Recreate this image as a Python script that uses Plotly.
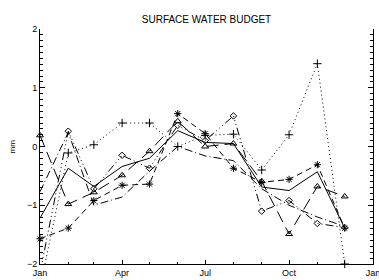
import plotly.graph_objects as go

# Data (first day of each month, day-of-year)
days = [0, 31, 59, 90, 120, 151, 181, 212, 243, 273, 304, 334]
tick_days = [0, 90, 181, 273, 365]
tick_labels = ["Jan", "Apr", "Jul", "Oct", "Jan"]
minor_days = [31, 59, 120, 151, 212, 243, 304, 334]

solid_vals = [-1.22, -0.37, -0.68, -0.34, -0.20, 0.27, 0.07, 0.05, -0.69, -0.75, -0.43, -1.39]
plus_vals = [-2.40, -0.11, 0.03, 0.40, 0.40, 0.00, 0.19, 0.21, -0.40, 0.20, 1.41, -2.00]
star_vals = [-1.57, -1.39, -0.92, -0.66, -0.64, 0.56, 0.22, -0.37, -0.61, -0.56, -0.31, -1.39]
dot_vals = [-0.77, 0.24, -1.00, -0.86, -0.42, 0.00, -0.16, -0.24, -0.72, -1.00, -1.20, -1.36]
diamond_vals = [-2.15, 0.26, -0.72, -0.15, -0.37, 0.36, 0.10, 0.52, -1.10, -0.92, -1.31, -1.38]
triangle_vals = [0.19, -0.98, -0.78, -0.49, -0.08, 0.43, 0.00, 0.05, -0.59, -1.49, -0.68, -0.85]

series = [
    (solid_vals, "solid", None, 0, False),
    (plus_vals, "1px,3px", "cross-thin-open", 6, False),
    (star_vals, "6px,4px", "asterisk-open", 6, False),
    (dot_vals, "8px,3px,1px,3px", None, 0, True),
    (diamond_vals, "8px,3px,1px,3px,1px,3px,1px,3px", "diamond-open", 5, True),
    (triangle_vals, "12px,6px", "triangle-up-open", 6, False),
]

fig = go.Figure()
for vals, dash, sym, size, clip in series:
    fig.add_trace(go.Scatter(
        x=days, y=vals,
        mode="lines+markers" if sym else "lines",
        line=dict(color="black", width=1, dash=dash),
        marker=dict(symbol=sym, size=size, color="black",
                    line=dict(color="black", width=1)) if sym else None,
        cliponaxis=clip,
        showlegend=False,
    ))

fig.update_layout(
    template="none",
    width=379, height=280,
    margin=dict(l=40, r=6, t=29, b=16, autoexpand=False),
    paper_bgcolor="white", plot_bgcolor="white",
    font=dict(family="Liberation Sans, Arial, sans-serif", size=9, color="black"),
    title=dict(text="SURFACE WATER BUDGET", x=(40 + 373) / 2 / 379, xanchor="center",
               y=1 - 19 / 280, yanchor="middle", yref="container",
               font=dict(size=10, color="black")),
    xaxis=dict(
        range=[0, 365], showgrid=False, zeroline=False, automargin=False,
        showline=True, linecolor="black", linewidth=1, mirror=False,
        tickmode="array", tickvals=tick_days, ticktext=tick_labels,
        ticklabeloverflow="allow",
        ticks="inside", ticklen=4, tickwidth=1, tickcolor="black",
        minor=dict(tickmode="array", tickvals=minor_days, ticks="inside",
                   ticklen=2, tickwidth=1, tickcolor="black", showgrid=False),
        tickfont=dict(size=9),
    ),
    yaxis=dict(
        range=[-2, 2], showgrid=False, zeroline=False, automargin=False,
        showline=True, linecolor="black", linewidth=1, mirror="ticks",
        tickmode="linear", tick0=-2, dtick=1,
        ticklabeloverflow="allow",
        ticks="inside", ticklen=5, tickwidth=1, tickcolor="black",
        minor=dict(dtick=0.1, ticks="inside", ticklen=3, tickwidth=1,
                   tickcolor="black", showgrid=False),
        tickfont=dict(size=9),
    ),
    annotations=[dict(text="mm", xref="paper", yref="paper",
                      x=(12 - 40) / 333, y=0.5, xanchor="center", yanchor="middle",
                      textangle=-90, showarrow=False, font=dict(size=8))],
)

fig.write_html(
    "out.html", config={"displayModeBar": False},
    post_script=("document.documentElement.style.overflow='hidden';"
                 "document.body.style.overflow='hidden';"
                 "document.body.style.margin='0px';"),
)
